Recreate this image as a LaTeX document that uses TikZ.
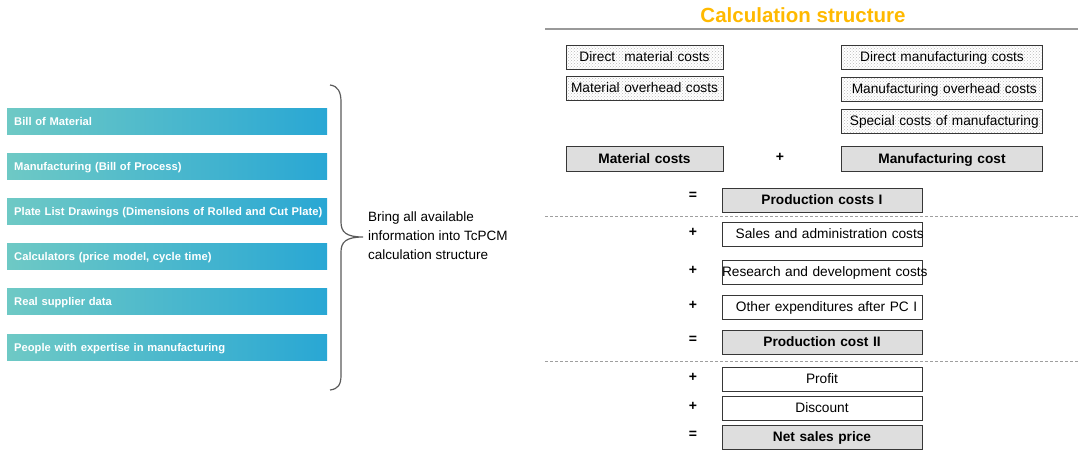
\documentclass[tikz,border=0pt]{standalone}
\usepackage{fontspec}
\setmainfont{Liberation Sans}
\usetikzlibrary{patterns}
\definecolor{tealL}{RGB}{110,201,197}
\definecolor{tealM}{RGB}{38,168,167}
\definecolor{tealR}{RGB}{41,167,212}
\definecolor{titleC}{RGB}{255,185,0}
\definecolor{boxfill}{RGB}{222,222,222}
\definecolor{edge}{RGB}{55,55,55}
\definecolor{bracec}{RGB}{90,90,90}
\begin{document}
\begin{tikzpicture}[x=1pt,y=-1pt,
  bar/.style={anchor=north west, minimum height=26pt, inner xsep=0pt, inner ysep=0pt,
    text width=320pt, text height=10.5pt, text depth=2.5pt, align=left,
    left color=tealL, middle color=tealM, right color=tealR,
    text=white, font=\fontsize{11.2}{13}\selectfont\bfseries},
  cbox/.style={draw=edge, line width=0.9pt, minimum height=24pt, inner xsep=0pt, inner ysep=0pt,
    text height=12.8pt, text depth=3pt, align=center, font=\fontsize{13.7}{16}\selectfont},
  dotbox/.style={cbox, pattern=crosshatch dots, pattern color=gray!55},
  graybox/.style={cbox, fill=boxfill, font=\fontsize{13.7}{16}\selectfont\bfseries},
  whitebox/.style={cbox, fill=white},
  op/.style={font=\fontsize{14}{16}\selectfont\bfseries, inner sep=0pt},
  sep/.style={draw=gray!75, line width=0.8pt, dash pattern=on 3pt off 2pt}
]
\useasboundingbox (0,0) rectangle (1078,452);

% left bars
\node[bar] (b1) at (7,108) {\hspace*{7pt}\mbox{Bill of Material}};
\node[bar] (b2) at (7,153) {\hspace*{7pt}\mbox{Manufacturing (Bill of Process)}};
\node[bar] (b3) at (7,198) {\hspace*{7pt}\mbox{Plate List Drawings (Dimensions of Rolled and Cut Plate)}};
\node[bar] (b4) at (7,243) {\hspace*{7pt}\mbox{Calculators (price model, cycle time)}};
\node[bar] (b5) at (7,288) {\hspace*{7pt}\mbox{Real supplier data}};
\node[bar] (b6) at (7,334) {\hspace*{7pt}\mbox{People with expertise in manufacturing}};

% brace
\coordinate (bt) at (330,85);
\coordinate (bb) at (330,390);
\coordinate (tip) at (363,237);
\draw[bracec, line width=1.2pt]
  (bt) .. controls (338,86) and (341,92) .. (341,102) -- (341,222)
  .. controls (341,232) and (346,237) .. (tip)
  .. controls (346,237) and (341,242) .. (341,252) -- (341,375)
  .. controls (341,385) and (338,389) .. (bb);
\node[anchor=west, align=left, inner sep=0pt, font=\fontsize{13.5}{19}\selectfont] (info) at (368,236)
  {Bring all available\\information into TcPCM\\calculation structure};

% title
\node[font=\fontsize{20.5}{24}\selectfont\bfseries, text=titleC, inner sep=0pt] (title) at (803,15) {Calculation structure};
\coordinate (tl1) at (545,29);
\coordinate (tl2) at (1078,29);
\draw[gray!80, line width=1.8pt] (tl1) -- (tl2);

% material column
\node[dotbox, text width=157pt] (dmc) at (644.5,57) {\mbox{Direct\ \ material costs}};
\node[dotbox, text width=157pt] (moc) at (644.5,88) {\mbox{Material overhead costs}};
% manufacturing column
\node[dotbox, text width=201pt] (dmf) at (942,57) {\mbox{Direct manufacturing costs}};
\node[dotbox, text width=201pt] (mfo) at (942,89) {\mbox{\ Manufacturing overhead costs}};
\node[dotbox, text width=201pt] (spc) at (942,121) {\mbox{\ Special costs of manufacturing}};

\node[graybox, text width=157pt, minimum height=25pt] (mc) at (644.5,158.5) {Material costs};
\node[op] (p0) at (780,157) {+};
\node[graybox, text width=201pt, minimum height=25pt] (mfc) at (942,158.5) {Manufacturing cost};

\node[op] (e1) at (693,196) {=};
\node[graybox, text width=200pt] (pc1) at (822,200) {Production costs I};

\coordinate (d1a) at (545,216);
\coordinate (d1b) at (1078,216);
\draw[sep] (d1a) -- (d1b);

\node[op] (p1) at (693,232) {+};
\node[whitebox, text width=200pt] (sac) at (822,234) {\mbox{\ \ \ Sales and administration costs}};
\node[op] (p2) at (693,270) {+};
\node[whitebox, text width=200pt] (rdc) at (822,272) {\mbox{Research and development costs}};
\node[op] (p3) at (693,305) {+};
\node[whitebox, text width=200pt] (oth) at (822,307) {\mbox{\ \ Other expenditures after PC I}};
\node[op] (e2) at (693,340) {=};
\node[graybox, text width=200pt] (pc2) at (822,342) {Production cost II};

\coordinate (d2a) at (545,361);
\coordinate (d2b) at (1078,361);
\draw[sep] (d2a) -- (d2b);

\node[op] (p4) at (693,377) {+};
\node[whitebox, text width=200pt] (prf) at (822,379) {Profit};
\node[op] (p5) at (693,406) {+};
\node[whitebox, text width=200pt] (dsc) at (822,408) {Discount};
\node[op] (e3) at (693,435) {=};
\node[graybox, text width=200pt] (nsp) at (822,437) {Net sales price};
\end{tikzpicture}
\end{document}
